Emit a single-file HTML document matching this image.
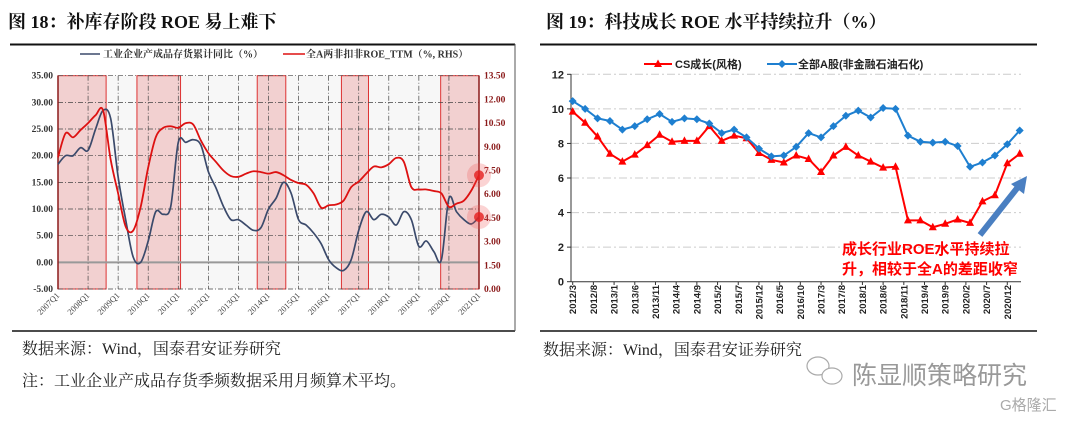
<!DOCTYPE html>
<html><head><meta charset="utf-8"><style>
body{margin:0;width:1080px;height:421px;background:#fff;overflow:hidden;font-family:"Liberation Serif","Noto Serif CJK SC",serif;}
svg{position:absolute;left:0;top:0}
</style></head><body>
<svg id="s" width="1080" height="421">
<text x="8" y="28" font-size="18" font-weight="bold" fill="#111">图 18：补库存阶段 ROE 易上难下</text>
<text x="546" y="28" font-size="18" font-weight="bold" fill="#111">图 19：科技成长 ROE 水平持续拉升（%）</text>
<line x1="10" y1="44.5" x2="515" y2="44.5" stroke="#111" stroke-width="2"/>
<line x1="540" y1="44.5" x2="1037" y2="44.5" stroke="#111" stroke-width="2"/>
<line x1="12" y1="331" x2="515" y2="331" stroke="#111" stroke-width="1.5"/>
<line x1="540" y1="331" x2="1037" y2="331" stroke="#111" stroke-width="1.5"/>
<line x1="515" y1="44" x2="515" y2="331" stroke="#555" stroke-width="1"/>
<text x="22" y="354" font-size="16" fill="#222">数据来源：Wind，国泰君安证券研究</text>
<text x="22" y="386" font-size="16" fill="#222">注：工业企业产成品存货季频数据采用月频算术平均。</text>
<text x="543" y="355" font-size="16" fill="#222">数据来源：Wind，国泰君安证券研究</text>
<g fill="none" stroke="#aaa" stroke-width="1.2"><ellipse cx="818" cy="366" rx="11" ry="9"/><ellipse cx="832" cy="376" rx="10" ry="8" fill="#fff"/></g>
<text x="852" y="384" font-size="25" fill="#999" font-family="Liberation Sans,Noto Sans CJK SC,sans-serif">陈显顺策略研究</text>
<text x="1000" y="410" font-size="15" fill="#aaa" font-family="Liberation Sans,Noto Sans CJK SC,sans-serif">G格隆汇</text>
<g id="L"></g><g id="R"></g>
</svg>
<script>
// ---- Left chart data ----
const lQuarters = ["2007Q1","2008Q1","2009Q1","2010Q1","2011Q1","2012Q1","2013Q1","2014Q1","2015Q1","2016Q1","2017Q1","2018Q1","2019Q1","2020Q1","2021Q1"];
const lInventory = [18.4,20,20,21.5,21,25,28.5,27,16,8,1,0,4,9.5,9,10.5,22.5,22.5,23,22,17,14,10.5,8,8,7,6,6.5,10,12,15,13,8,7,5.5,3.5,0.5,-1,-1.5,0.5,6,9.5,8,9,8.5,7,9.5,8,3,4,2,0.5,12,9.5,8,7.2,8.5];
const lRoe = [8.33,9.85,9.6,10.06,10.5,11,11.3,8.2,6.05,3.95,3.7,5.2,7.7,9.6,10.2,10.3,10.2,10.5,10.4,9.4,8.6,8.05,7.5,7.15,7.1,7.3,7.45,7.4,7.3,7.4,7.2,6.9,6.7,6.6,6.05,5.15,5.3,5.35,5.6,6.45,6.8,7.3,7.75,7.7,7.9,8.3,8.05,6.45,6.3,6.3,6.2,6.05,5.2,5.4,5.6,6.25,7.2];
const lLeftTicks = [35,30,25,20,15,10,5,0,-5];
const lRightTicks = [13.5,12,10.5,9,7.5,6,4.5,3,1.5,0];
const lShade = [[0,6.4],[10.5,16.3],[26.5,30.3],[37.7,41.3],[50.9,56]];
// ---- Right chart data ----
const rLabels = ["2012/3","2012/8","2013/1","2013/6","2013/11","2014/4","2014/9","2015/2","2015/7","2015/12","2016/5","2016/10","2017/3","2017/8","2018/1","2018/6","2018/11","2019/4","2019/9","2020/2","2020/7","2020/12"];
const rGrowth = [9.84,9.2,8.4,7.4,6.95,7.35,7.9,8.5,8.1,8.15,8.15,9.0,8.15,8.45,8.3,7.45,7.05,6.9,7.3,7.1,6.35,7.3,7.8,7.3,6.95,6.6,6.65,3.55,3.55,3.15,3.35,3.6,3.4,4.65,5.0,6.85,7.4];
const rAllA = [10.45,10.0,9.45,9.3,8.8,9.0,9.4,9.7,9.25,9.45,9.4,9.15,8.6,8.8,8.35,7.7,7.25,7.3,7.8,8.6,8.35,9.0,9.6,9.9,9.5,10.05,10.0,8.45,8.1,8.05,8.1,7.85,6.65,6.9,7.3,7.95,8.75];
const rTicks = [0,2,4,6,8,10,12];

const NS="http://www.w3.org/2000/svg";
function mk(p,t,a){const e=document.createElementNS(NS,t);for(const k in a)e.setAttribute(k,a[k]);p.appendChild(e);return e;}
function smooth(pts){let d=`M${pts[0][0]},${pts[0][1]}`;
for(let i=0;i<pts.length-1;i++){const p0=pts[Math.max(0,i-1)],p1=pts[i],p2=pts[i+1],p3=pts[Math.min(pts.length-1,i+2)];
const c1=[p1[0]+(p2[0]-p0[0])/6,p1[1]+(p2[1]-p0[1])/6],c2=[p2[0]-(p3[0]-p1[0])/6,p2[1]-(p3[1]-p1[1])/6];
d+=` C${c1[0]},${c1[1]} ${c2[0]},${c2[1]} ${p2[0]},${p2[1]}`;}return d;}

// Left
const L=document.getElementById('L');
const lx=q=>58+q*(421/56), ly=v=>289-(v+5)*(213.3/40), lyr=v=>289-v*(213.3/13.5);
mk(L,'rect',{x:58,y:75.7,width:421,height:213.3,fill:'#f7f7f7'});
lShade.forEach(s=>{const r=mk(L,'rect',{x:lx(s[0]),y:75.7,width:lx(s[1])-lx(s[0]),height:213.3,fill:'rgba(236,160,160,0.45)',stroke:'#d33','stroke-width':1});

});
lLeftTicks.forEach(v=>{const y=ly(v);
mk(L,'line',{x1:58,x2:479,y1:y,y2:y,stroke:v===0?'#999':'#444','stroke-width':v===0?2:0.7,'stroke-dasharray':v===0?'':'5,2,1,2'});
const t=mk(L,'text',{x:53,y:y+3,'font-size':9.5,'text-anchor':'end',fill:'#333','font-weight':'bold'});t.textContent=v.toFixed(2);

});
lRightTicks.forEach(v=>{const t=mk(L,'text',{x:484,y:lyr(v)+3,'font-size':9.5,fill:'#8b1a1a','font-weight':'bold'});t.textContent=v.toFixed(2);

});
lQuarters.forEach((q,i)=>{const x=lx(i*4);
if(i>0&&i<14)mk(L,'line',{x1:x,x2:x,y1:75.7,y2:289,stroke:'#444','stroke-width':0.7,'stroke-dasharray':'5,2,1,2'});
const t=mk(L,'text',{x:x+2,y:296,'font-size':8.5,'text-anchor':'end',fill:'#444',transform:`rotate(-45 ${x+2} 296)`});t.textContent=q;

});
mk(L,'line',{x1:58,x2:58,y1:75.7,y2:289,stroke:'#8b1a1a','stroke-width':1.5});
mk(L,'line',{x1:479,x2:479,y1:75.7,y2:289,stroke:'#8b1a1a','stroke-width':1.5});
const inv=mk(L,'path',{d:smooth(lInventory.map((v,i)=>[lx(i),ly(v)])),fill:'none',stroke:'#3b4a6b','stroke-width':1.7});


const roe=mk(L,'path',{d:smooth(lRoe.map((v,i)=>[lx(i),lyr(v)])),fill:'none',stroke:'#d11','stroke-width':1.8});


[[lx(56),lyr(lRoe[56])],[lx(56),ly(lInventory[56])]].forEach(p=>{mk(L,'circle',{cx:p[0],cy:p[1],r:12,fill:'rgba(240,80,80,0.25)'});mk(L,'circle',{cx:p[0],cy:p[1],r:5,fill:'rgba(230,30,30,0.8)'});});
mk(L,'line',{x1:80,x2:100,y1:54,y2:54,stroke:'#3b4a6b','stroke-width':1.5});
let t=mk(L,'text',{x:103,y:57.5,'font-size':10,'font-weight':'bold',fill:'#333'});t.textContent='工业企业产成品存货累计同比（%）';


mk(L,'line',{x1:283,x2:305,y1:54,y2:54,stroke:'#d11','stroke-width':1.5});
t=mk(L,'text',{x:306,y:57.5,'font-size':10,'font-weight':'bold',fill:'#333'});t.textContent='全A两非扣非ROE_TTM（%, RHS）';



// Right
const R=document.getElementById('R');
const rx=m=>572.7+m*(447/108), ry=v=>281.7-v*(207.4/12);
const sf='Liberation Sans,Noto Sans CJK SC,sans-serif';
rTicks.forEach(v=>{const y=ry(v);
if(v>0)mk(R,'line',{x1:571,x2:1021,y1:y,y2:y,stroke:'#ccc','stroke-width':1,'stroke-dasharray':'8,3,2,3'});
mk(R,'line',{x1:567,x2:571,y1:y,y2:y,stroke:'#333'});
const t=mk(R,'text',{x:564,y:y+4,'font-size':11,'text-anchor':'end',fill:'#222','font-family':sf,'font-weight':'bold'});t.textContent=v;

});
mk(R,'line',{x1:571,x2:571,y1:74,y2:282,stroke:'#333'});
mk(R,'line',{x1:571,x2:1021,y1:281.7,y2:281.7,stroke:'#333'});
rLabels.forEach((l,i)=>{const x=rx(i*5);
mk(R,'line',{x1:x,x2:x,y1:281.7,y2:285,stroke:'#333'});
const t=mk(R,'text',{x:x+3.5,y:285,'font-size':9.5,'text-anchor':'end',fill:'#222','font-family':sf,'font-weight':'bold',transform:`rotate(-90 ${x+3.5} 285)`});t.textContent=l;

});
const gl=mk(R,'polyline',{points:rGrowth.map((v,i)=>rx(i*3)+','+ry(v)).join(' '),fill:'none',stroke:'#f00','stroke-width':2});


rGrowth.forEach((v,i)=>{const x=rx(i*3),y=ry(v);const m=mk(R,'polygon',{points:`${x},${y-4.5} ${x-4},${y+3} ${x+4},${y+3}`,fill:'#f00'});

});
const al=mk(R,'polyline',{points:rAllA.map((v,i)=>rx(i*3)+','+ry(v)).join(' '),fill:'none',stroke:'#1e7fd0','stroke-width':2});


rAllA.forEach((v,i)=>{const x=rx(i*3),y=ry(v);const m=mk(R,'polygon',{points:`${x},${y-4} ${x+4},${y} ${x},${y+4} ${x-4},${y}`,fill:'#1e7fd0'});

});
mk(R,'line',{x1:644,x2:672,y1:64,y2:64,stroke:'#f00','stroke-width':2});
mk(R,'polygon',{points:'658,59.5 654,67 662,67',fill:'#f00'});
t=mk(R,'text',{x:675,y:68,'font-size':11,fill:'#222','font-family':sf,'font-weight':'bold'});t.textContent='CS成长(风格)';


mk(R,'line',{x1:767,x2:797,y1:64,y2:64,stroke:'#1e7fd0','stroke-width':2});
mk(R,'polygon',{points:'782,60 786,64 782,68 778,64',fill:'#1e7fd0'});
t=mk(R,'text',{x:798,y:68,'font-size':11,fill:'#222','font-family':sf,'font-weight':'bold'});t.textContent='全部A股(非金融石油石化)';


const ar=mk(R,'line',{x1:980,y1:235,x2:1018,y2:187,stroke:'#4a7fc1','stroke-width':6});


mk(R,'polygon',{points:'1027,176 1011,184 1024,194',fill:'#4a7fc1'});
t=mk(R,'text',{x:842,y:254,'font-size':15,fill:'#f00','font-family':sf,'font-weight':'bold'});t.textContent='成长行业ROE水平持续拉';


t=mk(R,'text',{x:842,y:274,'font-size':15,fill:'#f00','font-family':sf,'font-weight':'bold'});t.textContent='升，相较于全A的差距收窄';


</script>
</body></html>
